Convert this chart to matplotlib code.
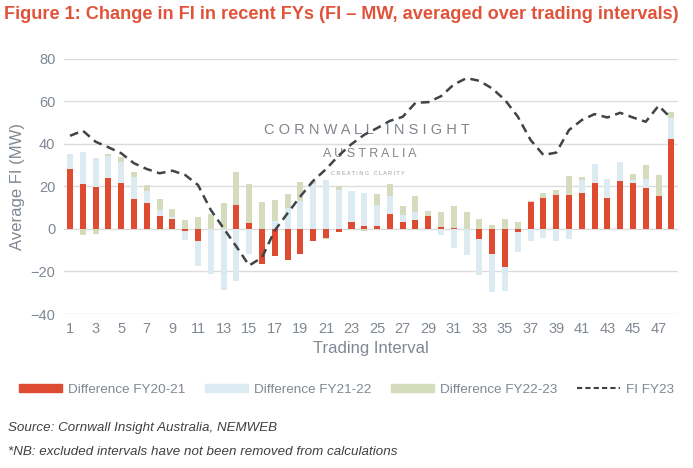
import numpy as np
from matplotlib import pyplot as plt
from matplotlib.patches import Patch
from matplotlib.lines import Line2D

intervals = np.arange(1, 49)

# Difference FY20-21 (red), FY21-22 (light blue), FY22-23 (green)
diff_2021 = [28.1, 21.1, 19.8, 24.0, 21.7, 14.2, 12.3, 6.1, 4.8, -0.9,
             -5.6, 0.0, 0.0, 11.2, 2.8, -16.4, -12.7, -14.8, -11.6, -5.5,
             -4.5, -1.7, 3.3, 1.4, 1.2, 7.0, 3.4, 4.2, 6.1, 0.8,
             0.5, 0.0, -4.7, -11.7, -18.1, -1.7, 12.8, 14.7, 16.1, 16.1,
             17.0, 21.7, 14.7, 22.7, 21.7, 19.4, 15.6, 42.3]
diff_2122 = [7.1, 15.0, 13.3, 10.2, 9.7, 10.3, 5.5, 2.8, 0.6, -4.2,
             -12.0, -21.3, -28.9, -24.7, -12.0, 0.0, 3.9, 9.7, 13.0, 21.0,
             23.0, 18.3, 14.5, 15.5, 10.2, 8.6, 3.2, 3.5, -0.5, -2.8,
             -9.2, -12.5, -17.2, -18.1, -11.3, -9.4, -5.5, -4.1, -5.5, -4.7,
             6.0, 8.8, 8.7, 8.7, 1.3, 4.0, 0.0, 9.7]
diff_2223 = [0.0, -3.1, -2.2, 1.0, 2.2, 2.2, 2.8, 5.2, 4.0, 4.2,
             5.6, 6.9, 12.0, 15.5, 18.3, 12.7, 9.7, 6.7, 9.0, 1.5,
             -0.5, 1.9, 0.0, -0.8, 5.2, 5.5, 4.2, 7.8, 2.3, 7.2,
             10.3, 8.0, 4.7, 1.9, 4.7, 3.1, 0.5, 2.2, 2.3, 8.7,
             1.4, 0.0, 0.0, 0.0, 2.8, 6.6, 9.7, 2.8]
fi_fy23 = [43.7, 46.1, 40.9, 38.3, 35.5, 30.8, 28.1, 26.1, 27.3, 25.3,
           20.6, 8.9, 0.3, -8.3, -17.2, -13.5, -0.8, 7.3, 15.2, 22.5,
           28.0, 34.4, 39.8, 44.2, 47.3, 50.7, 52.6, 59.2, 59.5, 62.3,
           67.8, 70.8, 69.5, 65.9, 60.5, 52.7, 41.7, 34.7, 35.8, 46.4,
           51.1, 53.9, 52.3, 54.5, 52.3, 50.3, 57.8, 51.9]

series_names = ["Difference FY20-21", "Difference FY21-22", "Difference FY22-23"]
colors = ["#DE4B31", "#DCEAF2", "#D5DBBD"]

plt.rcParams['font.family'] = ['Liberation Sans', 'DejaVu Sans']

grey = "#7F8893"
wm = "#80868C"

fig = plt.figure(figsize=(6.93, 4.68), dpi=100)
ax = fig.add_axes([0.0918, 0.329, 0.8862, 0.546])

# Excel style stacking: positives up, negatives down
pos = np.zeros(48)
neg = np.zeros(48)
for vals, c in zip([diff_2021, diff_2122, diff_2223], colors):
	vals = np.asarray(vals)
	bottom = np.where(vals >= 0, pos, neg)
	ax.bar(intervals, vals, bottom=bottom, width=0.47, color=c, zorder=2)
	pos = pos + np.where(vals >= 0, vals, 0)
	neg = neg + np.where(vals < 0, vals, 0)

ax.plot(intervals, fi_fy23, '--', color="#3F4448", lw=1.8, dashes=(3.5, 2.2), zorder=3)

ax.set_xlim(0.5, 48.5)
ax.set_ylim(-40, 80)
ax.set_yticks(np.arange(-40, 81, 20))
ax.set_xticks(np.arange(1, 48, 2))
ax.grid(axis='y', color="#DCDCDC", lw=1, zorder=0)
for s in ax.spines.values():
	s.set_visible(False)
ax.tick_params(length=0, labelsize=10.5, labelcolor=grey, pad=6)
ax.set_xlabel("Trading Interval", fontsize=12, color=grey, labelpad=3)
ax.set_ylabel("Average FI (MW)", fontsize=12, color=grey, labelpad=4)

# watermark
ax.text(0.494, 0.72, "C O R N W A L L   I N S I G H T", transform=ax.transAxes,
	ha='center', va='center', fontsize=10.5, color=wm, zorder=1)
ax.text(0.499, 0.626, "A U S T R A L I A", transform=ax.transAxes,
	ha='center', va='center', fontsize=9, color=wm, zorder=1)
ax.text(0.496, 0.551, "C R E A T I N G   C L A R I T Y", transform=ax.transAxes,
	ha='center', va='center', fontsize=4, color="#9A9EA2", zorder=1)

fig.text(0.006, 0.97, "Figure 1: Change in FI in recent FYs (FI \u2013 MW, averaged over trading intervals)",
	fontsize=13.1, fontweight='bold', color="#E0533A", ha='left', va='center')

handles = [Patch(color=c) for c in colors]
handles.append(Line2D([0], [0], color="#3F4448", ls='--', lw=1.5, dashes=(2.5, 1.5)))
leg = fig.legend(handles, series_names + ["FI FY23"], loc='center', bbox_to_anchor=(0.5, 0.167),
	ncol=4, frameon=False, fontsize=9.7, handlelength=3.2, handleheight=0.55,
	columnspacing=1.5, handletextpad=0.4)
for t in leg.get_texts():
	t.set_color(grey)

fig.text(0.012, 0.085, "Source: Cornwall Insight Australia, NEMWEB", fontsize=9.6,
	style='italic', color="#404040", ha='left', va='center')
fig.text(0.012, 0.034, "*NB: excluded intervals have not been removed from calculations", fontsize=9.6,
	style='italic', color="#404040", ha='left', va='center')

fig.savefig("out.png", dpi=100)
